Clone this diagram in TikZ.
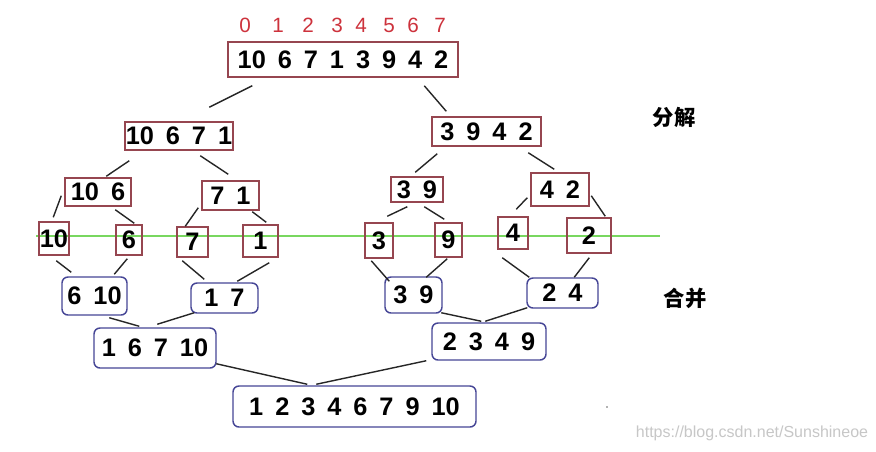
\documentclass[tikz,border=0pt]{standalone}
\usepackage{fontspec}
\setmainfont{Liberation Sans}
\newfontfamily\numfont{Liberation Sans Bold}[WordSpace=1.7]
\newfontfamily\cjk{Noto Sans CJK SC}
\usetikzlibrary{calc}
\definecolor{boxred}{RGB}{150,70,80}
\definecolor{boxblue}{RGB}{70,70,150}
\definecolor{idxred}{RGB}{205,50,60}
\definecolor{lgreen}{RGB}{120,215,95}
\begin{document}
\begin{tikzpicture}[x=0.75pt,y=-0.75pt,
  sz/.style 2 args={minimum width=#1*0.75pt,minimum height=#2*0.75pt},
  dbox/.style={draw=boxred,line width=1.1pt,inner sep=0pt,
    font=\numfont\fontsize{19}{19}\selectfont},
  mbox/.style={draw=boxblue,line width=1.1pt,rounded corners=4.5pt,inner sep=0pt,
    font=\numfont\fontsize{19}{19}\selectfont},
  conn/.style={draw=black!85,line width=1.05pt},
  idx/.style={text=idxred,inner sep=0pt,font=\fontsize{15.5}{15.5}\selectfont},
  lab/.style={inner sep=0pt,font=\cjk\bfseries\fontsize{16}{16}\selectfont},
  url/.style={inner sep=0pt,text=black!22,font=\fontsize{12}{12}\selectfont}]
\fill[white] (0,0) rectangle (876,451);
\useasboundingbox (0,0) rectangle (876,451);
% green divider
\coordinate (g1) at (36,236);
\coordinate (g2) at (660,236);
\draw[lgreen,line width=1.4pt] (g1) -- (g2);
% indices
\foreach \i/\x in {0/245,1/278,2/308,3/337,4/361,5/389,6/413,7/440}
  \node[idx] (i\i) at (\x,25) {\i};
% decomposition boxes
\node[dbox,sz={230}{35}] (T) at (343,59.5) {10 6 7 1 3 9 4 2};
\node[dbox,sz={108}{28}] (A) at (179,136) {10 6 7 1};
\node[dbox,sz={109}{29}] (B) at (486.5,131.5) {3 9 4 2};
\node[dbox,sz={66}{28}] (A1) at (98,192) {10 6};
\node[dbox,sz={57}{29}] (A2) at (230.5,195.5) {7 1};
\node[dbox,sz={52}{25}] (B1) at (417,189.5) {3 9};
\node[dbox,sz={58}{33}] (B2) at (560,189.5) {4 2};
\node[dbox,sz={30}{33}] (a) at (54,238.5) {10};
\node[dbox,sz={26}{30}] (b) at (129,240) {6};
\node[dbox,sz={31}{30}] (c) at (192.5,242) {7};
\node[dbox,sz={35}{32}] (d) at (260.5,241) {1};
\node[dbox,sz={28}{35}] (e) at (379,240.5) {3};
\node[dbox,sz={27}{34}] (f) at (448.5,240) {9};
\node[dbox,sz={30}{32}] (g) at (513,233) {4};
\node[dbox,sz={44}{35}] (h) at (589,235.5) {2};
% merge boxes
\node[mbox,sz={65}{38}] (M1) at (94.5,296) {6 10};
\node[mbox,sz={67}{30}] (M2) at (224.5,298) {1 7};
\node[mbox,sz={57}{36}] (M3) at (413.5,295) {3 9};
\node[mbox,sz={71}{30}] (M4) at (562.5,293) {2 4};
\node[mbox,sz={122}{40}] (N1) at (155,348) {1 6 7 10};
\node[mbox,sz={114}{37}] (N2) at (489,341.5) {2 3 4 9};
\node[mbox,sz={243}{41}] (F) at (354.5,406.5) {1 2 3 4 6 7 9 10};
% labels
\node[lab] (L1) at (674,117) {分解};
\node[lab] (L2) at (685,298) {合并};
\node[url] (U) at (752,433) {https://blog.csdn.net/Sunshineoe};
\fill[black!60] (607,407) circle (0.9);
% connectors
\draw[conn] ($(T.south west)+(25,8)$) -- ($(A.north west)+(85,-14)$);
\draw[conn] ($(T.south west)+(197,8)$) -- ($(B.north west)+(15,-5)$);
\draw[conn] ($(A.south west)+(5,10)$) -- ($(A1.north west)+(42,-1)$);
\draw[conn] ($(A.south west)+(76,5)$) -- ($(A2.north west)+(27,-6)$);
\draw[conn] ($(A1.south west)+(-3,-11)$) -- ($(a.north west)+(15,-4)$);
\draw[conn] ($(A1.south west)+(51,3)$) -- ($(b.north west)+(19,-1)$);
\draw[conn] ($(A2.south west)+(-3,-3)$) -- ($(c.north west)+(9,0)$);
\draw[conn] ($(A2.south west)+(51,1)$) -- ($(d.north west)+(24,-2)$);
\draw[conn] ($(B.south west)+(6,7)$) -- ($(B1.north west)+(25,-4)$);
\draw[conn] ($(B.south west)+(97,6)$) -- ($(B2.north west)+(24,-3)$);
\draw[conn] ($(B1.south west)+(17,4)$) -- ($(e.north west)+(23,-6)$);
\draw[conn] ($(B1.south west)+(34,4)$) -- ($(f.north west)+(10,-3)$);
\draw[conn] ($(B2.south west)+(-3,-9)$) -- ($(g.north west)+(19,-7)$);
\draw[conn] ($(B2.south west)+(61,-11)$) -- ($(h.north west)+(39,-1)$);
\draw[conn] ($(a.south west)+(18,5)$) -- ($(M1.north west)+(10,-4)$);
\draw[conn] ($(b.south west)+(12,3)$) -- ($(M1.north west)+(53,-2)$);
\draw[conn] ($(c.south west)+(6,3)$) -- ($(M2.north west)+(14,-3)$);
\draw[conn] ($(d.south west)+(27,5)$) -- ($(M2.north west)+(47,-1)$);
\draw[conn] ($(e.south west)+(7,2)$) -- ($(M3.north west)+(5,5)$);
\draw[conn] ($(f.south west)+(13,1)$) -- ($(M3.north west)+(42,1)$);
\draw[conn] ($(g.south west)+(5,8)$) -- ($(M4.north west)+(3,0)$);
\draw[conn] ($(h.south west)+(23,4)$) -- ($(M4.north west)+(48,0)$);
\draw[conn] ($(M1.south west)+(48,2)$) -- ($(N1.north west)+(46,-1)$);
\draw[conn] ($(M2.south west)+(4,-1)$) -- ($(N1.north west)+(64,-3)$);
\draw[conn] ($(M3.south west)+(57,-1)$) -- ($(N2.north west)+(50,-1)$);
\draw[conn] ($(M4.south west)+(1,-1)$) -- ($(N2.north west)+(54,-1)$);
\draw[conn] ($(N1.south west)+(123,-5)$) -- ($(F.north west)+(75,-1)$);
\draw[conn] ($(N2.south west)+(-5,0)$) -- ($(F.north west)+(84,-1)$);
\end{tikzpicture}
\end{document}
